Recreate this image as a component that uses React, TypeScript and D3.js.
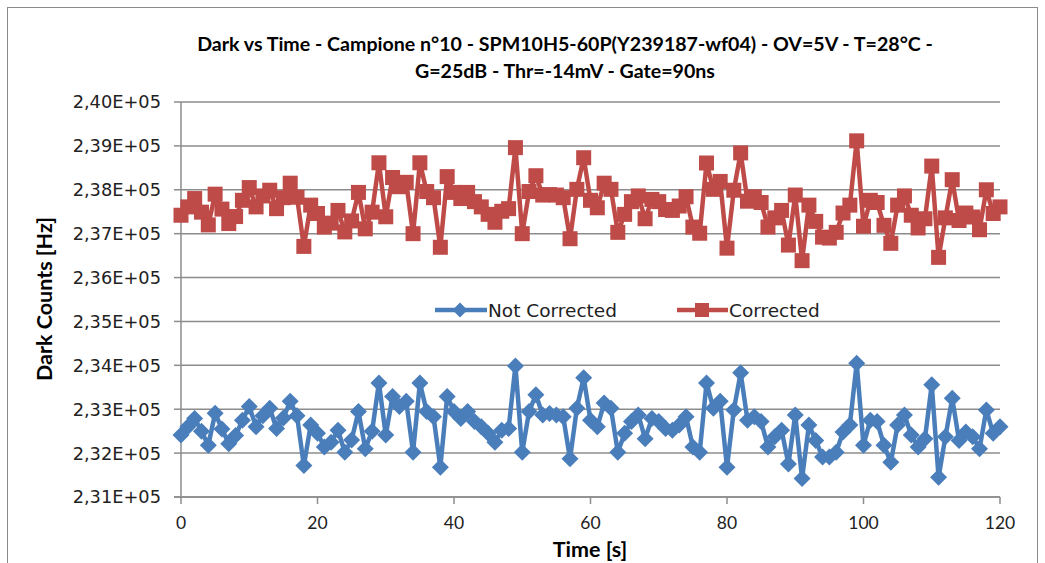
import React from "react";
import * as d3 from "d3";

const titleLines = [
  "Dark vs Time - Campione n°10 - SPM10H5-60P(Y239187-wf04) - OV=5V - T=28°C -",
  "G=25dB - Thr=-14mV - Gate=90ns",
];

const notCorrected = [
  232410, 232600, 232790, 232500, 232180, 232910, 232550, 232215, 232400, 232750,
  233060, 232600, 232850, 233020, 232560, 232800, 233180, 232850, 231715, 232640,
  232450, 232140, 232250, 232520, 232020, 232300, 232950, 232100, 232500, 233600,
  232410, 233290, 233060, 233180, 232020, 233600, 232950, 232830, 231680, 233290,
  232950, 232790, 232950, 232720, 232600, 232450, 232250, 232520, 232560, 233985,
  232020, 232950, 233330, 232870, 232900, 232870, 232830, 231870, 233020, 233715,
  232750, 232600, 233140, 233020, 232020, 232450, 232720, 232870, 232330, 232790,
  232720, 232560, 232520, 232640, 232830, 232140, 232020, 233600, 233020, 233180,
  231680, 232985, 233830, 232750, 232830, 232720, 232140, 232370, 232520, 231750,
  232870, 231420, 232640, 232290, 231910, 231910, 232020, 232480, 232640, 234050,
  232180, 232750, 232720, 232180, 231790, 232640, 232870, 232410, 232140, 232330,
  233560, 231450, 232370, 233250, 232290, 232480, 232370, 232100, 232985, 232450,
  232600,
];

const corrected = [
  237420, 237610, 237800, 237490, 237200, 237900, 237560, 237230, 237390, 237760,
  238050, 237610, 237860, 237990, 237570, 237820, 238150, 237830, 236710, 237650,
  237460, 237150, 237240, 237530, 237040, 237290, 237940, 237110, 237490, 238615,
  237385, 238280, 238070, 238170, 237000, 238615, 237960, 237820, 236690, 238300,
  237940, 237800, 237940, 237730, 237610, 237440, 237260, 237510, 237570, 238960,
  237000, 237960, 238320, 237880, 237890, 237880, 237820, 236885, 238010, 238730,
  237760, 237590, 238150, 238010, 237030, 237440, 237730, 237860, 237340, 237780,
  237730, 237550, 237530, 237630, 237840, 237150, 237010, 238610, 238010, 238190,
  236670, 237990, 238840, 237740, 237840, 237710, 237150, 237360, 237530, 236740,
  237880, 236385, 237650, 237280, 236920, 236900, 237030, 237470, 237650, 239115,
  237170, 237760, 237710, 237190, 236780, 237650, 237860, 237420, 237130, 237340,
  238540, 236460, 237360, 238230, 237300, 237470, 237380, 237090, 238000, 237460,
  237610,
];

const yTicks = [231000, 232000, 233000, 234000, 235000, 236000, 237000, 238000, 239000, 240000];
const yTickLabels = ["2,31E+05", "2,32E+05", "2,33E+05", "2,34E+05", "2,35E+05", "2,36E+05", "2,37E+05", "2,38E+05", "2,39E+05", "2,40E+05"];
const xTicks = [0, 20, 40, 60, 80, 100, 120];

const seriesNames = ["Not Corrected", "Corrected"];
const BLUE = "#4A7EBB";
const RED = "#BE4B48";
const GRID = "#8c8c8c";

const W = 1045;
const H = 563;
const left = 181;
const right = 1000;
const top = 102;
const bottom = 497;

const diamond = (s: number) => `M0,${-s}L${s},0L0,${s}L${-s},0Z`;

export default function App() {
  const x = d3.scaleLinear().domain([0, 120]).range([left, right]);
  const y = d3.scaleLinear().domain([231000, 240000]).range([bottom, top]);
  const line = d3
    .line<number>()
    .x((_, i) => x(i))
    .y((d) => y(d));

  const tickFont = "'DejaVu Sans', Verdana, sans-serif";
  const calFont = "Lato, 'Open Sans', sans-serif";

  return (
    <svg
      width={W}
      height={H}
      style={{ position: "absolute", left: 0, top: 0, background: "#fff" }}
    >
      <rect x={0} y={0} width={W} height={H} fill="#fff" />
      <rect x={7.5} y={7.5} width={1030} height={620} fill="none" stroke="#8a8a8a" strokeWidth={1} />

      {titleLines.map((t, i) => (
        <text
          key={i}
          x={565}
          y={51 + i * 27}
          textAnchor="middle"
          fontFamily={calFont}
          fontWeight="bold"
          fontSize={19.6}
          fill="#000"
        >
          {t}
        </text>
      ))}

      {/* gridlines */}
      {yTicks.map((v) => (
        <line key={v} x1={left} x2={right} y1={y(v)} y2={y(v)} stroke={GRID} strokeWidth={1.5} />
      ))}
      {/* y axis */}
      <line x1={left} x2={left} y1={top} y2={bottom} stroke={GRID} strokeWidth={1.5} />
      {yTicks.map((v, i) => (
        <g key={"yt" + v}>
          <line x1={left - 7} x2={left} y1={y(v)} y2={y(v)} stroke={GRID} strokeWidth={1.5} />
          <text
            x={161}
            y={y(v)}
            dy="0.36em"
            textAnchor="end"
            fontFamily={tickFont}
            fontSize={17.8}
            fill="#222"
          >
            {yTickLabels[i]}
          </text>
        </g>
      ))}
      {/* x axis */}
      <line x1={left - 7} x2={right} y1={bottom} y2={bottom} stroke={GRID} strokeWidth={1.5} />
      {xTicks.map((v) => (
        <g key={"xt" + v}>
          <line x1={x(v)} x2={x(v)} y1={bottom} y2={bottom + 7} stroke={GRID} strokeWidth={1.5} />
          <text
            x={x(v)}
            y={529}
            textAnchor="middle"
            fontFamily={calFont}
            fontSize={17.5}
            fill="#222"
          >
            {v}
          </text>
        </g>
      ))}

      <text x={590} y={557} textAnchor="middle" fontFamily={calFont} fontWeight="bold" fontSize={21.5} fill="#000">
        Time [s]
      </text>
      <text
        transform={`translate(52,299) rotate(-90)`}
        textAnchor="middle"
        fontFamily={calFont}
        fontWeight="bold"
        fontSize={21.5}
        fill="#000"
      >
        Dark Counts [Hz]
      </text>

      {/* Not Corrected series */}
      <path d={line(notCorrected) || ""} fill="none" stroke={BLUE} strokeWidth={4.5} strokeLinejoin="round" />
      {notCorrected.map((v, i) => (
        <path key={"b" + i} d={diamond(8.5)} transform={`translate(${x(i)},${y(v)})`} fill={BLUE} />
      ))}

      {/* Corrected series */}
      <path d={line(corrected) || ""} fill="none" stroke={RED} strokeWidth={4.5} strokeLinejoin="round" />
      {corrected.map((v, i) => (
        <rect key={"r" + i} x={x(i) - 7.5} y={y(v) - 7.5} width={15} height={15} fill={RED} />
      ))}

      {/* legend */}
      <g>
        <line x1={435} x2={487} y1={310} y2={310} stroke={BLUE} strokeWidth={4.5} />
        <path d={diamond(7.5)} transform="translate(460,310)" fill={BLUE} />
        <text x={488} y={310} dy="0.36em" fontFamily={tickFont} fontSize={18.5} fill="#222">
          {seriesNames[0]}
        </text>
        <line x1={677} x2={728} y1={310} y2={310} stroke={RED} strokeWidth={4.5} />
        <rect x={695} y={303} width={14} height={14} fill={RED} />
        <text x={729} y={310} dy="0.36em" fontFamily={tickFont} fontSize={18.5} fill="#222">
          {seriesNames[1]}
        </text>
      </g>
    </svg>
  );
}
